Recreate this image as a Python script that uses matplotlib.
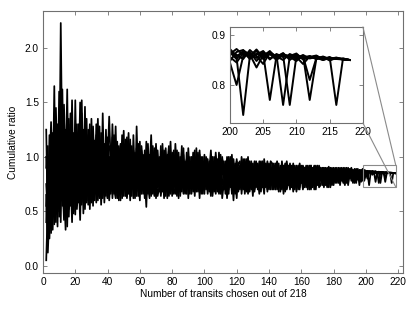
import numpy as np
import matplotlib
matplotlib.use("Agg")
import matplotlib.pyplot as plt
from matplotlib.patches import Rectangle, ConnectionPatch

plt.rcParams['font.family'] = ['Liberation Sans', 'DejaVu Sans']

# transits chosen: 2 .. 218
s1 = [0.05, 0.58, 1.02, 0.45, 1.22, 0.70, 1.08, 0.52, 0.64, 2.23,
      0.92, 0.48, 1.20, 0.66, 0.88, 1.30, 0.58, 0.95, 0.72, 1.10,
      0.62, 1.02, 0.78, 1.25, 0.60, 0.90, 1.15, 0.70, 0.98, 0.66,
      1.05, 0.74, 0.92, 0.62, 1.12, 0.80, 0.96, 0.68, 1.18, 0.76,
      0.88, 1.02, 0.66, 0.94, 0.72, 1.08, 0.82, 0.98, 0.64, 0.90,
      1.00, 0.74, 0.86, 1.10, 0.70, 0.92, 0.80, 1.04, 0.68, 0.88,
      0.76, 0.98, 0.64, 0.90, 1.02, 0.72, 0.86, 0.94, 0.70, 1.06,
      0.82, 0.92, 0.68, 1.00, 0.78, 0.88, 0.96, 0.70, 0.90, 0.80,
      0.98, 0.72, 0.86, 0.94, 0.68, 1.02, 0.80, 0.90, 0.74, 0.96,
      0.84, 0.70, 0.92, 1.00, 0.76, 0.88, 0.66, 0.94, 0.82, 0.90,
      0.74, 0.96, 0.86, 0.70, 0.92, 0.80, 0.98, 0.76, 0.88, 0.84,
      0.92, 0.72, 0.88, 0.96, 0.78, 0.86, 0.68, 0.94, 0.82, 0.90,
      0.80, 0.92, 0.74, 0.88, 0.96, 0.78, 0.86, 0.70, 0.90, 0.84,
      0.88, 0.76, 0.92, 0.82, 0.72, 0.90, 0.86, 0.94, 0.78, 0.88,
      0.84, 0.92, 0.74, 0.88, 0.82, 0.90, 0.70, 0.86, 0.92, 0.80,
      0.88, 0.78, 0.90, 0.84, 0.74, 0.89, 0.82, 0.92, 0.76, 0.87,
      0.84, 0.90, 0.78, 0.88, 0.82, 0.72, 0.87, 0.90, 0.80, 0.86,
      0.88, 0.80, 0.86, 0.90, 0.76, 0.87, 0.84, 0.89, 0.74, 0.86,
      0.87, 0.82, 0.89, 0.78, 0.86, 0.88, 0.80, 0.87, 0.84, 0.88,
      0.82, 0.87, 0.85, 0.79, 0.88, 0.86, 0.83, 0.87, 0.870, 0.855,
      0.74, 0.858, 0.868, 0.852, 0.862, 0.856, 0.864, 0.850, 0.860, 0.855,
      0.858, 0.852, 0.856, 0.849, 0.854, 0.851, 0.850]

s2 = [1.25, 0.30, 0.85, 1.32, 0.62, 1.65, 0.40, 1.05, 0.75, 1.50,
      0.55, 1.05, 0.78, 1.62, 0.45, 0.98, 0.70, 1.22, 0.62, 0.88,
      1.10, 0.55, 1.52, 0.76, 0.95, 0.64, 1.20, 0.82, 0.58, 1.05,
      0.72, 1.20, 0.60, 0.98, 0.84, 0.66, 1.08, 0.90, 0.62, 1.00,
      0.70, 0.92, 1.15, 0.64, 0.86, 1.00, 0.60, 0.94, 1.12, 0.74,
      0.90, 0.66, 1.05, 0.78, 0.96, 0.62, 1.28, 0.76, 0.92, 0.70,
      1.02, 0.80, 0.54, 0.96, 0.74, 1.10, 0.66, 0.88, 0.98, 0.72,
      0.94, 0.66, 1.04, 0.76, 0.90, 0.62, 0.98, 0.84, 0.72, 1.06,
      0.70, 0.92, 1.04, 0.64, 0.88, 0.78, 0.96, 0.66, 1.08, 0.82,
      0.96, 0.86, 0.64, 0.90, 0.78, 1.02, 0.74, 0.84, 0.96, 0.70,
      0.90, 0.68, 0.82, 1.00, 0.74, 0.94, 0.70, 0.86, 1.02, 0.78,
      0.70, 0.96, 0.80, 0.66, 0.92, 0.74, 0.98, 0.80, 0.62, 0.88,
      0.92, 0.72, 0.98, 0.80, 0.68, 0.90, 0.76, 0.94, 0.82, 0.70,
      0.78, 0.94, 0.70, 0.86, 0.96, 0.74, 0.88, 0.68, 0.90, 0.82,
      0.90, 0.72, 0.86, 0.94, 0.68, 0.88, 0.80, 0.76, 0.90, 0.86,
      0.74, 0.90, 0.82, 0.68, 0.88, 0.80, 0.92, 0.72, 0.86, 0.80,
      0.90, 0.76, 0.86, 0.92, 0.74, 0.88, 0.80, 0.70, 0.88, 0.84,
      0.78, 0.90, 0.84, 0.74, 0.88, 0.82, 0.90, 0.78, 0.86, 0.80,
      0.84, 0.76, 0.88, 0.85, 0.80, 0.74, 0.87, 0.82, 0.88, 0.78,
      0.88, 0.80, 0.76, 0.86, 0.84, 0.88, 0.78, 0.86, 0.862, 0.872,
      0.860, 0.866, 0.848, 0.863, 0.77, 0.858, 0.862, 0.855, 0.861, 0.852,
      0.856, 0.859, 0.851, 0.855, 0.852, 0.853, 0.850]

s3 = [0.65, 0.12, 0.50, 0.95, 0.33, 0.80, 1.35, 0.60, 1.60, 0.40,
      1.35, 0.72, 0.33, 1.05, 0.62, 1.15, 0.80, 0.50, 1.52, 0.70,
      0.85, 0.42, 1.00, 0.68, 1.46, 0.58, 0.88, 1.30, 0.62, 0.92,
      0.66, 0.94, 1.35, 0.70, 0.88, 1.02, 0.58, 0.86, 0.74, 1.10,
      1.06, 0.62, 0.84, 1.28, 0.70, 0.78, 0.96, 0.66, 0.86, 1.04,
      0.64, 1.12, 0.72, 0.88, 1.00, 0.80, 0.68, 0.94, 0.78, 1.06,
      0.86, 0.68, 1.14, 0.74, 0.62, 0.92, 1.00, 0.70, 0.84, 0.64,
      0.72, 1.10, 0.80, 0.66, 0.96, 0.74, 0.86, 1.00, 0.64, 0.88,
      0.86, 0.64, 0.96, 0.80, 1.10, 0.70, 0.84, 0.98, 0.62, 0.90,
      0.74, 1.04, 0.80, 0.68, 0.94, 0.62, 0.90, 1.00, 0.76, 0.86,
      0.98, 0.80, 0.64, 0.90, 0.84, 0.66, 0.88, 0.96, 0.72, 0.92,
      0.84, 0.88, 0.62, 0.82, 1.00, 0.68, 0.86, 0.72, 0.96, 0.78,
      0.70, 0.86, 0.90, 0.66, 0.82, 1.00, 0.72, 0.88, 0.78, 0.94,
      0.92, 0.70, 0.84, 0.90, 0.78, 0.66, 0.94, 0.80, 0.72, 0.88,
      0.76, 0.88, 0.92, 0.70, 0.86, 0.74, 0.96, 0.82, 0.68, 0.90,
      0.92, 0.70, 0.86, 0.90, 0.80, 0.72, 0.86, 0.94, 0.82, 0.70,
      0.78, 0.88, 0.70, 0.84, 0.92, 0.80, 0.76, 0.86, 0.92, 0.74,
      0.86, 0.74, 0.90, 0.80, 0.84, 0.91, 0.72, 0.86, 0.88, 0.78,
      0.80, 0.88, 0.74, 0.86, 0.90, 0.79, 0.85, 0.76, 0.89, 0.84,
      0.76, 0.86, 0.89, 0.82, 0.78, 0.87, 0.84, 0.80, 0.848, 0.866,
      0.870, 0.856, 0.861, 0.868, 0.853, 0.860, 0.76, 0.857, 0.854, 0.860,
      0.853, 0.856, 0.850, 0.854, 0.853, 0.851, 0.850]

s4 = [0.90, 1.10, 0.25, 0.70, 1.15, 0.45, 0.92, 0.36, 1.20, 0.82,
      0.60, 1.48, 0.90, 0.55, 1.25, 0.85, 0.40, 1.08, 0.66, 1.30,
      0.72, 1.25, 0.56, 1.10, 0.80, 1.35, 0.66, 0.96, 0.74, 1.20,
      0.94, 0.58, 1.10, 0.82, 0.66, 1.40, 0.74, 1.02, 0.88, 0.60,
      0.80, 1.18, 0.74, 0.62, 1.02, 0.88, 0.70, 1.20, 0.76, 0.96,
      0.78, 0.94, 0.60, 1.02, 0.84, 0.72, 1.08, 0.64, 1.00, 0.82,
      0.70, 0.88, 0.96, 0.66, 0.86, 1.20, 0.76, 0.64, 0.94, 0.84,
      1.00, 0.76, 0.88, 0.62, 1.08, 0.82, 0.70, 0.94, 0.86, 0.66,
      0.94, 0.82, 0.70, 1.00, 0.76, 0.88, 0.66, 1.04, 0.80, 0.72,
      0.88, 0.76, 1.06, 0.72, 0.84, 0.90, 0.68, 0.80, 0.92, 0.74,
      0.80, 0.92, 0.74, 0.96, 0.68, 0.86, 0.78, 0.92, 0.66, 0.88,
      0.96, 0.78, 0.90, 0.74, 0.86, 0.94, 0.80, 0.66, 0.90, 0.84,
      0.86, 0.78, 0.94, 0.72, 0.90, 0.82, 0.96, 0.76, 0.86, 0.68,
      0.84, 0.88, 0.76, 0.96, 0.82, 0.90, 0.72, 0.86, 0.94, 0.76,
      0.92, 0.80, 0.70, 0.90, 0.84, 0.78, 0.88, 0.92, 0.76, 0.84,
      0.80, 0.86, 0.92, 0.76, 0.84, 0.90, 0.74, 0.88, 0.80, 0.90,
      0.86, 0.72, 0.90, 0.80, 0.86, 0.90, 0.82, 0.88, 0.74, 0.90,
      0.82, 0.88, 0.76, 0.89, 0.80, 0.78, 0.88, 0.82, 0.90, 0.84,
      0.88, 0.80, 0.86, 0.82, 0.76, 0.88, 0.84, 0.90, 0.80, 0.86,
      0.84, 0.88, 0.80, 0.87, 0.86, 0.77, 0.88, 0.85, 0.868, 0.860,
      0.852, 0.870, 0.858, 0.842, 0.865, 0.855, 0.859, 0.76, 0.858, 0.853,
      0.857, 0.852, 0.855, 0.851, 0.854, 0.852, 0.850]

s5 = [0.40, 1.00, 0.70, 0.30, 0.88, 1.40, 0.58, 1.20, 0.45, 1.55,
      0.80, 0.42, 1.00, 1.40, 0.52, 0.90, 1.12, 0.48, 0.95, 0.58,
      1.30, 0.80, 0.64, 0.92, 0.52, 1.05, 0.74, 0.60, 1.35, 0.78,
      0.60, 1.30, 0.82, 1.05, 0.56, 0.90, 0.70, 1.25, 0.62, 0.94,
      0.66, 0.86, 0.96, 0.78, 1.14, 0.60, 0.90, 0.72, 1.02, 0.64,
      1.18, 0.80, 0.66, 0.96, 0.62, 0.98, 0.74, 0.88, 1.14, 0.66,
      0.94, 0.62, 0.80, 1.04, 0.70, 0.78, 0.92, 1.08, 0.62, 0.90,
      0.68, 0.86, 0.96, 0.74, 0.64, 0.94, 1.10, 0.66, 0.82, 0.96,
      0.76, 1.06, 0.62, 0.90, 0.84, 0.66, 0.92, 0.76, 0.86, 1.00,
      0.66, 0.92, 0.86, 0.78, 1.04, 0.72, 0.82, 0.70, 1.02, 0.80,
      0.86, 0.72, 0.98, 0.64, 0.80, 1.04, 0.84, 0.70, 0.94, 0.62,
      0.76, 0.92, 0.84, 0.70, 0.98, 0.82, 0.60, 0.88, 0.76, 0.94,
      0.96, 0.66, 0.82, 0.92, 0.76, 0.70, 0.90, 0.84, 0.64, 0.88,
      0.72, 0.82, 0.96, 0.68, 0.88, 0.84, 0.76, 0.92, 0.86, 0.70,
      0.86, 0.94, 0.78, 0.84, 0.72, 0.92, 0.84, 0.66, 0.86, 0.92,
      0.86, 0.76, 0.84, 0.94, 0.70, 0.86, 0.88, 0.78, 0.92, 0.84,
      0.72, 0.86, 0.92, 0.76, 0.84, 0.88, 0.70, 0.92, 0.84, 0.80,
      0.90, 0.84, 0.72, 0.86, 0.90, 0.80, 0.86, 0.74, 0.84, 0.90,
      0.76, 0.86, 0.90, 0.80, 0.88, 0.84, 0.78, 0.86, 0.82, 0.89,
      0.86, 0.76, 0.86, 0.89, 0.80, 0.84, 0.87, 0.82, 0.856, 0.845,
      0.864, 0.858, 0.871, 0.855, 0.862, 0.850, 0.860, 0.856, 0.848, 0.859,
      0.77, 0.853, 0.857, 0.852, 0.855, 0.851, 0.850]

s6 = [0.75, 0.45, 1.20, 0.55, 1.00, 0.38, 1.45, 0.80, 0.50, 1.05,
      1.62, 0.65, 0.85, 0.36, 1.10, 0.72, 1.52, 0.60, 1.15, 0.82,
      0.58, 0.95, 1.20, 0.48, 0.86, 1.10, 0.60, 1.05, 0.82, 1.28,
      0.86, 0.66, 1.00, 0.74, 1.22, 0.62, 1.12, 0.78, 0.96, 1.37,
      0.92, 0.74, 1.04, 0.86, 0.62, 1.10, 0.76, 0.84, 1.24, 0.70,
      0.86, 1.22, 0.76, 0.70, 1.06, 0.86, 0.64, 1.12, 0.72, 0.94,
      0.66, 1.06, 0.84, 0.72, 0.98, 0.64, 1.10, 0.80, 0.92, 0.74,
      0.90, 0.70, 1.12, 0.84, 0.72, 1.02, 0.64, 0.88, 1.04, 0.76,
      1.12, 0.84, 0.76, 0.68, 0.98, 0.90, 0.72, 0.86, 0.94, 0.66,
      1.00, 0.80, 0.72, 1.08, 0.68, 0.86, 0.96, 0.76, 0.70, 0.94,
      0.70, 0.88, 1.06, 0.78, 0.86, 0.72, 0.92, 0.66, 0.84, 0.98,
      0.88, 0.66, 0.96, 0.86, 0.72, 1.02, 0.76, 0.92, 0.70, 0.82,
      0.74, 1.00, 0.84, 0.76, 0.92, 0.66, 0.86, 0.96, 0.74, 0.82,
      0.96, 0.80, 0.66, 0.90, 0.74, 0.98, 0.82, 0.70, 0.88, 0.94,
      0.70, 0.84, 0.90, 0.80, 0.94, 0.68, 0.80, 0.90, 0.84, 0.74,
      0.90, 0.82, 0.72, 0.88, 0.92, 0.78, 0.84, 0.70, 0.88, 0.92,
      0.88, 0.82, 0.74, 0.90, 0.70, 0.86, 0.92, 0.78, 0.86, 0.72,
      0.74, 0.86, 0.90, 0.82, 0.88, 0.72, 0.90, 0.84, 0.80, 0.88,
      0.90, 0.78, 0.84, 0.88, 0.82, 0.86, 0.90, 0.74, 0.86, 0.80,
      0.80, 0.89, 0.82, 0.86, 0.74, 0.88, 0.80, 0.88, 0.872, 0.858,
      0.866, 0.852, 0.863, 0.857, 0.868, 0.853, 0.861, 0.858, 0.863, 0.851,
      0.855, 0.858, 0.852, 0.856, 0.76, 0.853, 0.850]

s7 = [0.55, 0.85, 0.35, 1.10, 0.58, 1.20, 0.68, 0.95, 1.35, 0.60,
      1.00, 0.80, 1.25, 0.50, 0.75, 1.40, 0.68, 1.05, 0.47, 1.20,
      0.95, 0.66, 1.40, 0.84, 0.70, 1.15, 0.56, 0.80, 1.10, 0.55,
      1.15, 0.86, 0.70, 0.90, 1.02, 0.75, 0.86, 0.64, 1.05, 0.84,
      0.72, 1.30, 0.88, 1.06, 0.80, 0.66, 1.12, 0.90, 0.70, 1.16,
      0.70, 1.02, 0.90, 0.64, 1.20, 0.74, 0.96, 0.82, 0.60, 1.10,
      0.90, 0.76, 1.02, 0.86, 0.68, 1.04, 0.84, 0.72, 1.12, 0.80,
      0.78, 0.96, 0.72, 1.06, 0.90, 0.68, 0.80, 1.14, 0.76, 0.70,
      0.66, 0.90, 1.00, 0.74, 0.86, 1.08, 0.68, 0.94, 0.72, 0.88,
      0.92, 0.68, 0.98, 0.86, 0.72, 1.06, 0.80, 0.90, 0.66, 1.00,
      0.94, 0.76, 0.88, 0.72, 1.00, 0.82, 0.68, 1.04, 0.80, 0.72,
      0.70, 0.94, 0.72, 1.00, 0.80, 0.76, 0.92, 0.84, 0.98, 0.68,
      0.88, 0.80, 0.70, 0.98, 0.84, 0.92, 0.68, 0.80, 0.94, 0.76,
      0.80, 0.90, 0.88, 0.72, 0.94, 0.78, 0.90, 0.84, 0.70, 0.96,
      0.94, 0.76, 0.86, 0.96, 0.78, 0.88, 0.74, 0.84, 0.94, 0.70,
      0.76, 0.92, 0.88, 0.80, 0.86, 0.68, 0.90, 0.84, 0.76, 0.88,
      0.82, 0.92, 0.84, 0.70, 0.88, 0.76, 0.90, 0.84, 0.78, 0.92,
      0.86, 0.78, 0.88, 0.84, 0.72, 0.90, 0.80, 0.88, 0.84, 0.76,
      0.82, 0.90, 0.78, 0.86, 0.84, 0.90, 0.76, 0.88, 0.84, 0.82,
      0.88, 0.84, 0.78, 0.85, 0.88, 0.82, 0.86, 0.78, 0.845, 0.80,
      0.858, 0.864, 0.854, 0.866, 0.851, 0.862, 0.856, 0.859, 0.852, 0.857,
      0.81, 0.854, 0.850, 0.855, 0.852, 0.851, 0.850]

s8 = [1.00, 0.70, 0.90, 0.62, 0.80, 1.00, 0.48, 1.30, 0.70, 1.20,
      0.70, 1.20, 0.58, 0.95, 1.35, 0.55, 1.00, 0.75, 1.25, 0.52,
      0.76, 1.50, 0.70, 0.58, 1.02, 0.74, 1.25, 0.52, 0.90, 1.00,
      0.80, 1.05, 0.64, 1.28, 0.72, 0.98, 0.64, 1.08, 0.80, 0.70,
      1.00, 0.68, 1.20, 0.72, 0.94, 0.82, 1.04, 0.62, 0.96, 0.84,
      0.62, 0.88, 1.16, 0.74, 0.90, 1.04, 0.70, 0.86, 0.96, 0.76,
      1.00, 0.84, 0.70, 1.12, 0.80, 0.66, 0.94, 0.86, 0.76, 0.96,
      0.86, 0.64, 0.94, 0.80, 1.00, 0.76, 0.92, 0.70, 0.98, 0.84,
      0.80, 0.96, 0.88, 0.70, 1.04, 0.76, 0.92, 0.70, 0.98, 0.76,
      0.78, 0.96, 0.70, 0.94, 0.86, 0.76, 1.00, 0.66, 0.88, 0.84,
      0.66, 0.84, 0.92, 0.82, 0.70, 0.96, 0.74, 0.88, 0.78, 1.00,
      0.82, 0.70, 1.00, 0.78, 0.90, 0.66, 0.88, 0.78, 0.86, 0.74,
      0.78, 0.94, 0.86, 0.70, 0.98, 0.74, 0.92, 0.82, 0.72, 0.96,
      0.86, 0.74, 0.90, 0.78, 0.92, 0.72, 0.84, 0.96, 0.80, 0.74,
      0.80, 0.70, 0.94, 0.76, 0.90, 0.82, 0.92, 0.72, 0.88, 0.96,
      0.84, 0.94, 0.78, 0.86, 0.82, 0.92, 0.70, 0.80, 0.90, 0.76,
      0.90, 0.78, 0.88, 0.84, 0.92, 0.74, 0.84, 0.80, 0.90, 0.86,
      0.80, 0.90, 0.82, 0.76, 0.86, 0.88, 0.76, 0.90, 0.78, 0.86,
      0.86, 0.84, 0.80, 0.90, 0.78, 0.82, 0.88, 0.80, 0.86, 0.90,
      0.82, 0.78, 0.88, 0.80, 0.86, 0.84, 0.89, 0.84, 0.865, 0.852,
      0.869, 0.861, 0.835, 0.860, 0.866, 0.857, 0.850, 0.862, 0.856, 0.842,
      0.857, 0.853, 0.856, 0.851, 0.853, 0.852, 0.850]

series = [s1, s2, s3, s4, s5, s6, s7, s8]

x_ticks = [0, 20, 40, 60, 80, 100, 120, 140, 160, 180, 200, 220]
y_ticks = [0.0, 0.5, 1.0, 1.5, 2.0]
inset_x_ticks = [200, 205, 210, 215, 220]
inset_y_ticks = [0.8, 0.9]

spine_c = '#707070'
box_c = '#8a8a8a'
fs = 7.3

fig = plt.figure(figsize=(4.15, 3.12), dpi=100)
ax = fig.add_axes([0.1036, 0.125, 0.8675, 0.8397])
for s in series:
    xs = np.arange(2, 2 + len(s))
    ax.plot(xs, s, color='black', lw=1.25)
ax.set_xlim(0, 223)
ax.set_ylim(-0.067, 2.34)
ax.set_xticks(x_ticks)
ax.set_yticks(y_ticks)
ax.set_yticklabels([f"{v:.1f}" for v in y_ticks])
ax.tick_params(direction='in', top=True, right=True, length=3, width=0.6,
               color=spine_c, labelsize=fs, pad=3)
for sp in ax.spines.values():
    sp.set_color(spine_c)
    sp.set_linewidth(0.8)
ax.set_xlabel("Number of transits chosen out of 218", fontsize=fs, labelpad=1)
ax.set_ylabel("Cumulative ratio", fontsize=fs, labelpad=5)

# zoom box on main axes
rx0, rx1, ry0, ry1 = 198.0, 218.5, 0.724, 0.924
ax.add_patch(Rectangle((rx0, ry0), rx1 - rx0, ry1 - ry0, fill=False,
                       edgecolor=box_c, lw=0.8, zorder=5))

ins = fig.add_axes([0.554, 0.6058, 0.3205, 0.3077])
for s in series:
    xs = np.arange(2, 2 + len(s))
    ins.plot(xs, s, color='black', lw=1.4)
ins.set_xlim(200, 220)
ins.set_ylim(0.724, 0.916)
ins.set_xticks(inset_x_ticks)
ins.set_yticks(inset_y_ticks)
ins.set_yticklabels([f"{v:.1f}" for v in inset_y_ticks])
ins.tick_params(direction='in', top=True, right=True, length=3, width=0.6,
                color=spine_c, labelsize=fs, pad=3)
for sp in ins.spines.values():
    sp.set_color(spine_c)
    sp.set_linewidth(0.8)

for ya, yd in [(1.0, ry1), (0.0, ry0)]:
    con = ConnectionPatch(xyA=(1.0, ya), coordsA=ins.transAxes,
                          xyB=(rx1, yd), coordsB=ax.transData,
                          color=box_c, lw=0.8)
    fig.add_artist(con)

fig.savefig("out.png", dpi=100)
